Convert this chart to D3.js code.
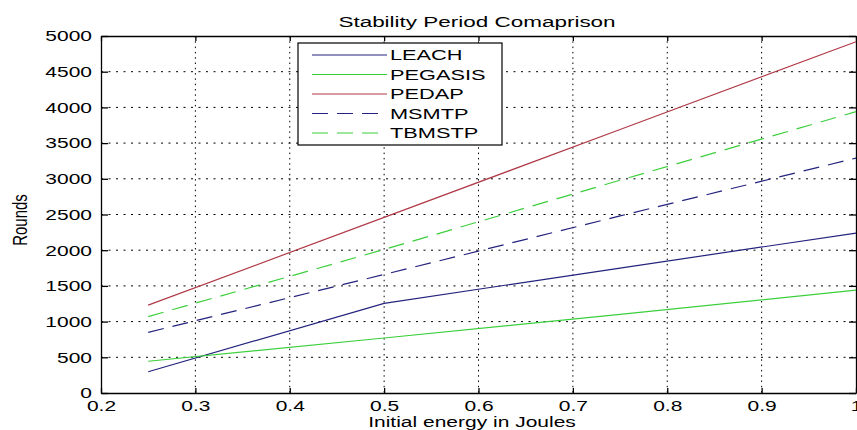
<!DOCTYPE html>
<html>
<head>
<meta charset="utf-8">
<script src="https://cdn.jsdelivr.net/npm/d3@7"></script>
<style>
  body { margin: 0; background: #fff; }
  text { font-family: "Liberation Sans", Arial, sans-serif; fill: #000; }
</style>
</head>
<body>
<div id="chart"></div>
<script>
// values
const energy = [0.25, 0.5, 0.75, 1.0];
const leach = [298, 1256, 1750, 2240];
const pegasis = [445, 770, 1100, 1440];
const pedap = [1230, 2460, 3690, 4920];
const msmtp = [850, 1660, 2480, 3290];
const tbmstp = [1070, 2010, 2980, 3940];

const seriesNames = ['LEACH', 'PEGASIS', 'PEDAP', 'MSMTP', 'TBMSTP'];
const seriesValues = [leach, pegasis, pedap, msmtp, tbmstp];
const seriesColors = ['#23237e', '#3ccf3c', '#b03a48', '#23237e', '#3ccf3c'];
const seriesDash = [null, null, null, '16,9', '16,9'];

const xTicks = [0.2, 0.3, 0.4, 0.5, 0.6, 0.7, 0.8, 0.9, 1];
const yTicks = [0, 500, 1000, 1500, 2000, 2500, 3000, 3500, 4000, 4500, 5000];

const width = 857, height = 430;
const plotLeft = 101, plotRight = 856, plotTop = 36, plotBottom = 393;
const sx = 1.4; // picture is stretched sideways

const svg = d3.select('#chart')
  .append('svg')
  .attr('width', width)
  .attr('height', height);

const x = d3.scaleLinear().domain([0.2, 1]).range([plotLeft, plotRight]);
const y = d3.scaleLinear().domain([0, 5000]).range([plotBottom, plotTop]);

// grid
svg.append('g').selectAll('line')
  .data(xTicks.slice(1, -1))
  .join('line')
  .attr('x1', d => x(d)).attr('x2', d => x(d))
  .attr('y1', plotTop).attr('y2', plotBottom)
  .style('stroke', '#000')
  .style('stroke-width', 1)
  .style('stroke-dasharray', '1.5,3.8');

svg.append('g').selectAll('line')
  .data(yTicks.slice(1, -1))
  .join('line')
  .attr('x1', plotLeft).attr('x2', plotRight)
  .attr('y1', d => y(d)).attr('y2', d => y(d))
  .style('stroke', '#000')
  .style('stroke-width', 1)
  .style('stroke-dasharray', '2,5.5');

// axes
const xAxis = svg.append('g')
  .attr('transform', `translate(0,${plotBottom})`)
  .call(d3.axisBottom(x).tickValues(xTicks).tickFormat(d3.format('')).tickSizeInner(-5).tickSizeOuter(0).tickPadding(7));
xAxis.selectAll('text')
  .style('font-size', '15px')
  .attr('transform', `scale(${sx},1)`);

const yAxis = svg.append('g')
  .attr('transform', `translate(${plotLeft},0)`)
  .call(d3.axisLeft(y).tickValues(yTicks).tickFormat(d3.format('d')).tickSizeInner(-7).tickSizeOuter(0).tickPadding(9));
yAxis.selectAll('text')
  .style('font-size', '15px')
  .attr('x', -9 / sx)
  .attr('transform', `scale(${sx},1)`);

svg.append('g')
  .attr('transform', `translate(0,${plotTop})`)
  .call(d3.axisTop(x).tickValues(xTicks).tickFormat('').tickSizeInner(-5).tickSizeOuter(0));

svg.append('g')
  .attr('transform', `translate(${plotRight},0)`)
  .call(d3.axisRight(y).tickValues(yTicks).tickFormat('').tickSizeInner(-7).tickSizeOuter(0));

svg.selectAll('.domain, .tick line')
  .style('stroke', '#000')
  .style('stroke-width', 1.3);

// lines
const line = d3.line()
  .x((d, i) => x(energy[i]))
  .y(d => y(d));

seriesValues.forEach((vals, k) => {
  svg.append('path')
    .datum(vals)
    .attr('d', line)
    .style('fill', 'none')
    .style('stroke', seriesColors[k])
    .style('stroke-width', 1.2)
    .style('stroke-dasharray', seriesDash[k]);
});

// legend
const legend = svg.append('g');
legend.append('rect')
  .attr('x', 298).attr('y', 43)
  .attr('width', 204).attr('height', 102)
  .style('fill', '#fff')
  .style('stroke', '#000')
  .style('stroke-width', 1.2);

seriesNames.forEach((name, k) => {
  const ly = 55 + k * 19.5;
  legend.append('line')
    .attr('x1', 312).attr('x2', 387)
    .attr('y1', ly).attr('y2', ly)
    .style('stroke', seriesColors[k])
    .style('stroke-width', 1.2)
    .style('stroke-dasharray', seriesDash[k]);
  legend.append('text')
    .attr('transform', `translate(390,${ly}) scale(1.45,1)`)
    .attr('dy', '0.36em')
    .style('font-size', '15px')
    .text(name);
});

// titles
svg.append('text')
  .attr('transform', `translate(477,27) scale(1.45,1)`)
  .attr('text-anchor', 'middle')
  .style('font-size', '15.5px')
  .text('Stability Period Comaprison');

svg.append('text')
  .attr('transform', `translate(472,427) scale(${sx},1)`)
  .attr('text-anchor', 'middle')
  .style('font-size', '15px')
  .text('Initial energy in Joules');

svg.append('text')
  .attr('transform', `translate(27,220) rotate(-90) scale(1,${sx})`)
  .attr('text-anchor', 'middle')
  .style('font-size', '15px')
  .text('Rounds');
</script>
</body>
</html>
